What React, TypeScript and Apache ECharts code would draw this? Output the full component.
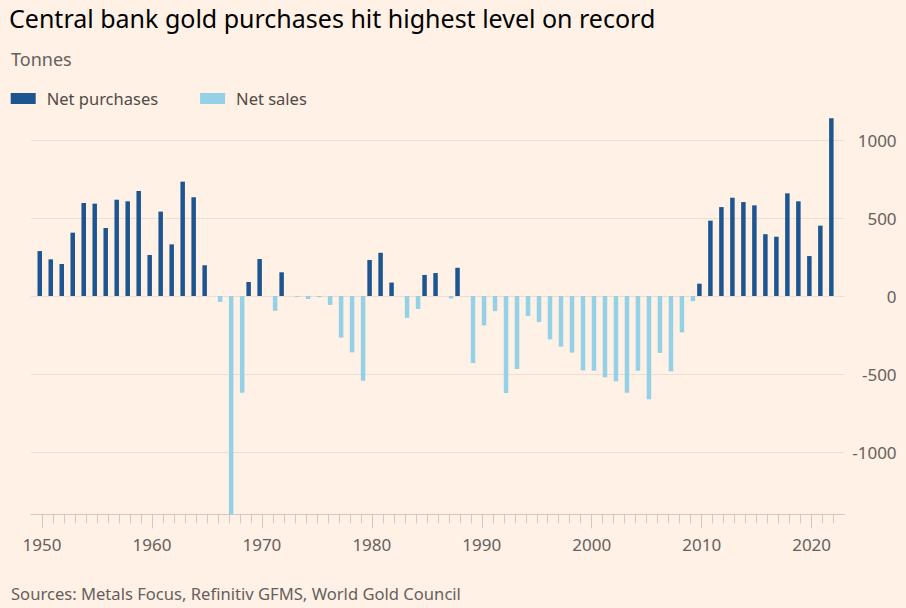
import React, { useEffect, useRef } from 'react';
import * as echarts from 'echarts';

const startYear = 1950;
// Net central bank gold purchases (+) / sales (-), tonnes, 1950–2022
const tonnes = [
  288, 235, 205, 406, 596, 592, 436, 617, 607, 673,
  263, 541, 331, 733, 633, 197, -38, -1400, -620, 90,
  237, -95, 152, -5, -19, -7, -57, -267, -361, -543,
  231, 277, 86, -140, -83, 135, 147, -16, 181, -430,
  -189, -97, -622, -468, -128, -167, -278, -325, -363, -477,
  -479, -521, -547, -620, -479, -662, -365, -483, -233, -33,
  79, 483, 570, 630, 602, 581, 396, 380, 658, 607,
  256, 451, 1139,
];
const years = tonnes.map((_, i) => startYear + i);
const decadeLabels = [1950, 1960, 1970, 1980, 1990, 2000, 2010, 2020];
const yTicks = [-1000, -500, 0, 500, 1000];
const seriesNames = ['Net purchases', 'Net sales'];

const purchases = years.map((y, i) => [y, tonnes[i] > 0 ? tonnes[i] : '-']);
const sales = years.map((y, i) => [y, tonnes[i] < 0 ? tonnes[i] : '-']);

const DARK = '#1d5590';
const LIGHT = '#94d0e6';
const GREY = '#66605c';
const AXIS = '#d3c8be';

export default function App() {
  const ref = useRef<HTMLDivElement>(null);
  useEffect(() => {
    if (!ref.current) return;
    const chart = echarts.init(ref.current, undefined, { renderer: 'svg' });
    chart.setOption({
      animation: false,
      backgroundColor: '#fff1e5',
      textStyle: { fontFamily: '"Noto Sans", sans-serif' },
      title: [
        {
          text: 'Central bank gold purchases hit highest level on record',
          left: 9, top: 5, padding: 0,
          textStyle: { fontSize: 25, fontWeight: 'normal', color: '#000000' },
        },
        {
          text: 'Tonnes',
          left: 11, top: 50, padding: 0,
          textStyle: { fontSize: 18, fontWeight: 'normal', color: GREY },
        },
        {
          text: 'Sources: Metals Focus, Refinitiv GFMS, World Gold Council',
          left: 11, top: 585, padding: 0,
          textStyle: { fontSize: 16.6, fontWeight: 'normal', color: GREY },
        },
      ],
      legend: {
        left: 10.7, top: 90, padding: 0,
        itemWidth: 25, itemHeight: 11, itemGap: 42,
        icon: 'rect',
        textStyle: { fontSize: 16.5, color: '#4f4a46', padding: [0, 0, 0, 6] },
        data: seriesNames,
      },
      grid: { left: 31, right: 61.4, top: 116.6, bottom: 93.6 },
      xAxis: [
        {
          type: 'value', min: 1949, max: 2023,
          axisLine: { onZero: false, lineStyle: { color: AXIS, width: 1 } },
          axisTick: { customValues: years, length: 9, lineStyle: { color: AXIS } },
          axisLabel: {
            customValues: decadeLabels, margin: 22, fontSize: 17, color: GREY,
            formatter: (v: number) => String(v),
          },
          splitLine: { show: false },
        },
        {
          type: 'value', min: 1949, max: 2023, position: 'bottom',
          axisLine: { show: false, onZero: false },
          axisTick: { customValues: decadeLabels, length: 14, lineStyle: { color: AXIS } },
          axisLabel: { show: false },
          splitLine: { show: false },
        },
      ],
      yAxis: {
        type: 'value', position: 'right', min: -1400, max: 1150,
        axisLine: { show: false },
        axisTick: { show: false, customValues: yTicks },
        axisLabel: {
          customValues: yTicks, align: 'right', margin: 52, fontSize: 17, color: GREY,
          formatter: (v: number) => String(v),
        },
        splitLine: { customValues: yTicks, lineStyle: { color: '#ebdfd4', width: 1 } },
      },
      series: [
        {
          name: seriesNames[0], type: 'bar', data: purchases,
          barWidth: 4.5, barGap: '0%',
          itemStyle: { color: DARK },
        },
        {
          name: seriesNames[1], type: 'bar', data: sales,
          barWidth: 4.5, barGap: '0%',
          itemStyle: { color: LIGHT },
        },
      ],
    });
    return () => chart.dispose();
  }, []);
  return (
    <div
      ref={ref}
      style={{ position: 'absolute', left: 0, top: 0, width: 906, height: 608 }}
    />
  );
}
